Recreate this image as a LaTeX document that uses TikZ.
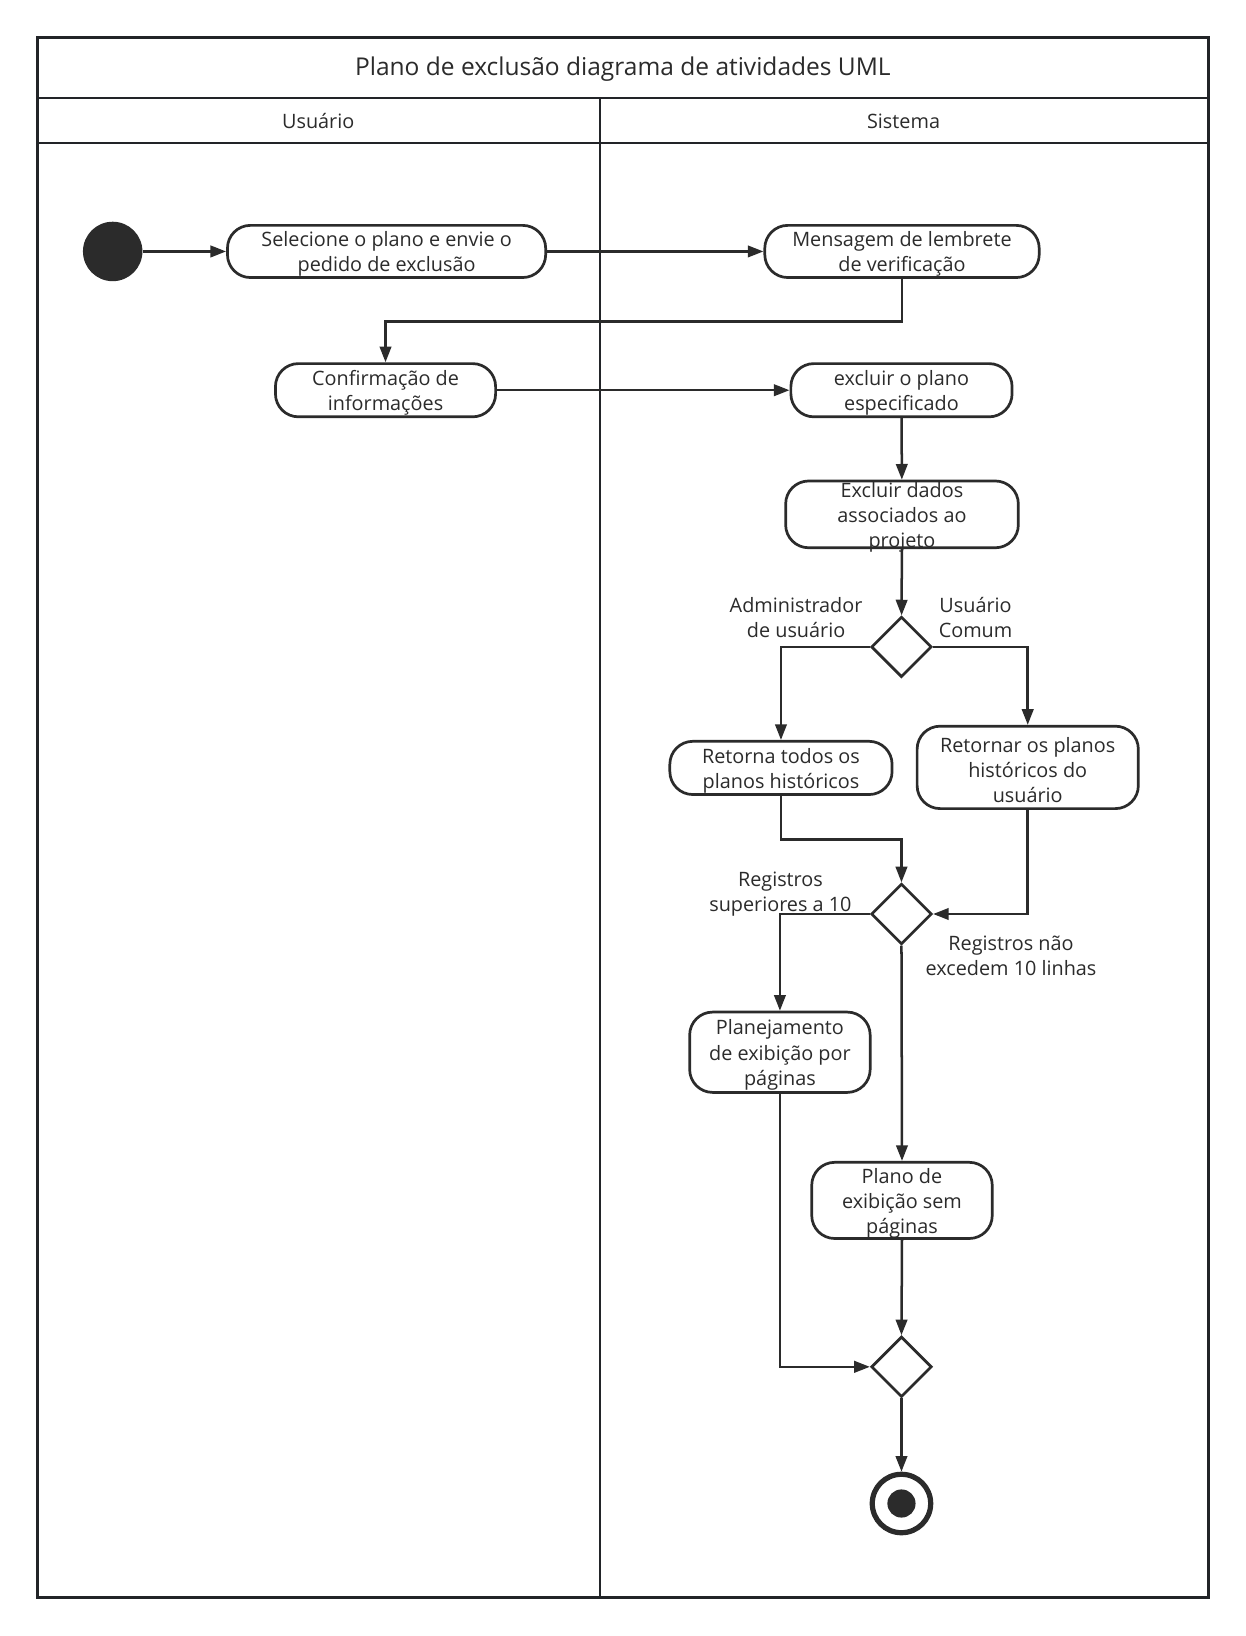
\documentclass[tikz,border=0pt]{standalone}
\usepackage{fontspec}
\setmainfont{Open Sans}
\usetikzlibrary{shapes.geometric,arrows.meta}
\definecolor{ink}{HTML}{2B2B2B}
\definecolor{frame}{HTML}{222428}
\tikzset{
  txt/.style={align=center, font=\fontsize{19}{24}\selectfont, text=ink, inner sep=0pt},
  act/.style={draw=ink, line width=2.6pt, rounded corners=22pt, fill=white, inner sep=0pt},
  acttext/.style={label={[txt, yshift=-2.5pt]center:{#1}}},
  dec/.style={draw=ink, diamond, line width=2.6pt, minimum width=58pt, minimum height=58pt, inner sep=0pt, fill=white},
  lbl/.style={txt},
  flow/.style={draw=ink, line width=2.4pt, -{Triangle[length=15pt,width=11pt]}},
  lane/.style={draw=frame, line width=2.6pt}
}
\begin{document}
\begin{tikzpicture}[x=1pt,y=-1pt]
\useasboundingbox (0,0) rectangle (1194,1568);
\fill[white] (0,0) rectangle (1194,1568);
% frame
\draw[lane] (36,36) rectangle (1158,1531);
\draw[lane] (36,94) -- (1158,94);
\draw[lane] (36,137) -- (1158,137);
\draw[lane] (575,94) -- (575,1531);
\node[lbl, font=\fontsize{23.5}{28}\selectfont] (title) at (597,66) {Plano de exclusão diagrama de atividades UML};
\node[lbl] (lu) at (305,116) {Usuário};
\node[lbl] (ls) at (866,116) {Sistema};
% nodes
\node[circle, fill=ink, minimum size=57pt, inner sep=0pt] (start) at (108,241) {};
\node[act, minimum width=305pt, minimum height=50pt, acttext={Selecione o plano e envie o\\pedido de exclusão}] (b1) at (370.5,241) {};
\node[act, minimum width=263pt, minimum height=50pt, acttext={Mensagem de lembrete\\de verificação}] (b2) at (864.5,241) {};
\node[act, minimum width=211pt, minimum height=51pt, acttext={Confirmação de\\informações}] (b3) at (369.5,374) {};
\node[act, minimum width=212pt, minimum height=51pt, acttext={excluir o plano\\especificado}] (b4) at (864,374) {};
\node[act, minimum width=223pt, minimum height=64pt, acttext={Excluir dados\\associados ao\\projeto}] (b5) at (864.5,493) {};
\node[dec] (d1) at (864,620) {};
\node[lbl] (l1) at (763,592) {Administrador\\de usuário};
\node[lbl] (l2) at (935,592) {Usuário\\Comum};
\node[act, minimum width=213pt, minimum height=51pt, acttext={Retorna todos os\\planos históricos}] (b6) at (748.5,736) {};
\node[act, minimum width=212pt, minimum height=79pt, acttext={Retornar os planos\\históricos do\\usuário}] (b7) at (985,735.5) {};
\node[dec] (d2) at (864,876) {};
\node[lbl] (l3) at (748,857) {Registros\\superiores a 10};
\node[lbl] (l4) at (969,916) {Registros não\\excedem 10 linhas};
\node[act, minimum width=173pt, minimum height=77pt, acttext={Planejamento\\de exibição por\\páginas}] (b8) at (747.5,1008.5) {};
\node[act, minimum width=173pt, minimum height=73pt, acttext={Plano de\\exibição sem\\páginas}] (b9) at (864.5,1150.5) {};
\node[dec] (d3) at (864,1310) {};
\node[circle, draw=ink, line width=5pt, minimum size=56pt, inner sep=0pt, fill=white] (end) at (864,1441) {};
\fill[ink] (end.center) circle (13.5pt);
% connectors
\draw[flow] (start) -- (b1);
\draw[flow] (b1) -- (b2);
\draw[flow] (b2.south) -- ++(0,41) -| (b3.north);
\draw[flow] (b3) -- (b4);
\draw[flow] (b4) -- (b5);
\draw[flow] (b5) -- (d1);
\draw[flow] (d1.west) -| (b6.north);
\draw[flow] (d1.east) -| (b7.north);
\draw[flow] (b6.south) -- ++(0,42) -| (d2.north);
\draw[flow] (b7.south) |- (d2.east);
\draw[flow] (d2.west) -| (b8.north);
\draw[flow] (d2.south) -- (b9.north);
\draw[flow] (b9.south) -- (d3.north);
\draw[flow] (b8.south) |- (d3.west);
\draw[flow] (d3.south) -- (end.north);
\end{tikzpicture}
\end{document}
